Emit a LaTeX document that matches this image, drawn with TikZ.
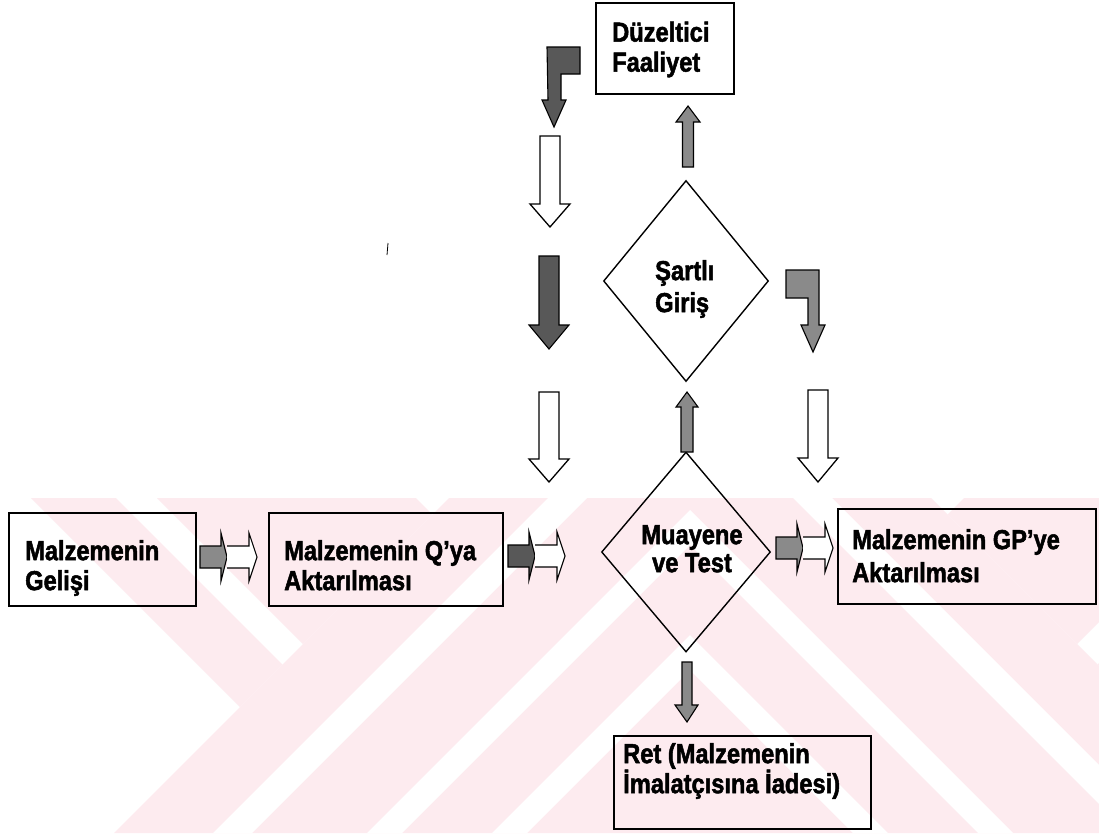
\documentclass[tikz,border=0pt]{standalone}
\usepackage{fontspec}
\setmainfont{Liberation Sans}[FakeStretch=0.86, BoldFeatures={FakeBold=1.8}]
\usetikzlibrary{shapes.geometric}
\definecolor{wm}{RGB}{253,235,239}
\definecolor{darkg}{RGB}{88,88,88}
\definecolor{midg}{RGB}{138,138,138}
\newcommand\wmhalf{%
  \begin{scope}
    \clip (0,498) rectangle (690,833);
    \fill[wm] (31,498)--(116,498)--(282.5,664.5)--(240,707)--cycle;
    \fill[wm] (157,498)--(416,498)--(432.5,514.5)--(303,644)--cycle;
    \fill[wm] (449,498)--(690,498)--(690,833)--(114,833)--cycle;
    \foreach \a/\b in {1046/1085,1200/1235,1325/1360}
      \fill[white] ({\a-498},498)--({\b-498},498)--({\b-833},833)--({\a-833},833)--cycle;
  \end{scope}}
\tikzset{
  box/.style={draw, line width=1.6pt, rectangle, anchor=north west, inner sep=0pt},
  txt/.style={anchor=north west, inner sep=0pt, align=left, font=\bfseries\fontsize{27.5}{30}\selectfont},
  dia/.style={draw, line width=1.4pt, diamond, inner sep=0pt},
  wArrow/.style={draw, fill=white, line width=1.3pt, line join=miter},
  dArrow/.style={draw, fill=darkg, line width=1.1pt, line join=miter},
  mArrow/.style={draw, fill=midg, line width=1.1pt, line join=miter}
}
\begin{document}
\begin{tikzpicture}[x=1pt,y=-1pt]
\useasboundingbox (0,0) rectangle (1099,833);
\fill[white] (0,0) rectangle (1099,833);
% watermark
\wmhalf
\begin{scope}[xshift=1380pt,xscale=-1]
\wmhalf
\end{scope}

% boxes
\node[box, minimum width=138pt, minimum height=91pt] (duz) at (595,2) {};
\node[txt] (duzT) at (612,21.5) {Düzeltici\\Faaliyet};

\node[box, minimum width=187pt, minimum height=93pt] (gel) at (8,512) {};
\node[txt] (gelT) at (25,540) {Malzemenin\\Gelişi};

\node[box, minimum width=234pt, minimum height=93pt] (qya) at (268,512) {};
\node[txt] (qyaT) at (284,540) {Malzemenin Q’ya\\Aktarılması};

\node[box, minimum width=258pt, minimum height=95pt] (gp) at (837,508) {};
\node[txt, font=\bfseries\fontsize{27.5}{33}\selectfont] (gpT) at (852,529) {Malzemenin GP’ye\\Aktarılması};

\node[box, minimum width=257pt, minimum height=93pt] (ret) at (613,735) {};
\node[txt] (retT) at (623,743) {Ret (Malzemenin\\İmalatçısına İadesi)};

% diamonds
\node[dia, minimum width=165pt, minimum height=201pt] (sart) at (686,281) {};
\node[txt, font=\bfseries\fontsize{27.5}{32}\selectfont] (sartT) at (655,260) {Şartlı\\Giriş};

\node[dia, minimum width=169pt, minimum height=200pt] (muay) at (686,552) {};
\node[txt, anchor=north, align=center, font=\bfseries\fontsize{27.5}{28}\selectfont] (muayT) at (692,525) {Muayene\\ve Test};

% left column arrows
\draw[dArrow] (547,47)--(580,47)--(580,74)--(561,74)--(561,100)--(566,100)--(554,127)--(542,100)--(548,100)--cycle;
\draw[wArrow] (540,136)--(560,136)--(560,204)--(570,204)--(550,227)--(530,204)--(540,204)--cycle;
\draw[dArrow] (539,256)--(559,256)--(559,325)--(569,325)--(549,349)--(529,325)--(539,325)--cycle;
\draw[wArrow] (539,392)--(559,392)--(559,459)--(569,459)--(549,482)--(529,459)--(539,459)--cycle;

% right column arrows
\draw[mArrow] (786,270)--(819,270)--(819,325)--(825,325)--(813,352)--(801,325)--(808,325)--(808,298)--(786,298)--cycle;
\draw[wArrow] (808,390)--(828,390)--(828,458)--(838,458)--(818,482)--(798,458)--(808,458)--cycle;

% centre vertical arrows
\draw[mArrow] (682.5,167)--(693.5,167)--(693.5,122)--(700,122)--(688,106)--(676,122)--(682.5,122)--cycle;
\draw[mArrow] (681,452)--(693,452)--(693,407)--(698,407)--(687,392)--(676,407)--(681,407)--cycle;
\draw[mArrow] (682,662)--(692,662)--(692,705)--(698,705)--(687,722)--(675,705)--(682,705)--cycle;

% horizontal arrows
\foreach \xo/\yc/\col in {200/557/midg, 508/556/darkg, 776/548/midg}{
  \draw[line width=1.1pt, fill=\col, line join=miter] (\xo,\yc-11)--(\xo+21,\yc-11)--(\xo+21,\yc-24)--(\xo+27,\yc)--(\xo+21,\yc+24)--(\xo+21,\yc+11)--(\xo,\yc+11)--cycle;
  \draw[wArrow, line width=1.1pt] (\xo+27,\yc-11)--(\xo+49,\yc-11)--(\xo+49,\yc-24)--(\xo+57,\yc)--(\xo+49,\yc+24)--(\xo+49,\yc+11)--(\xo+27,\yc+11);
}

% scan specks
\draw[line width=0.8pt] (388,243)--(387,255);
\end{tikzpicture}
\end{document}
